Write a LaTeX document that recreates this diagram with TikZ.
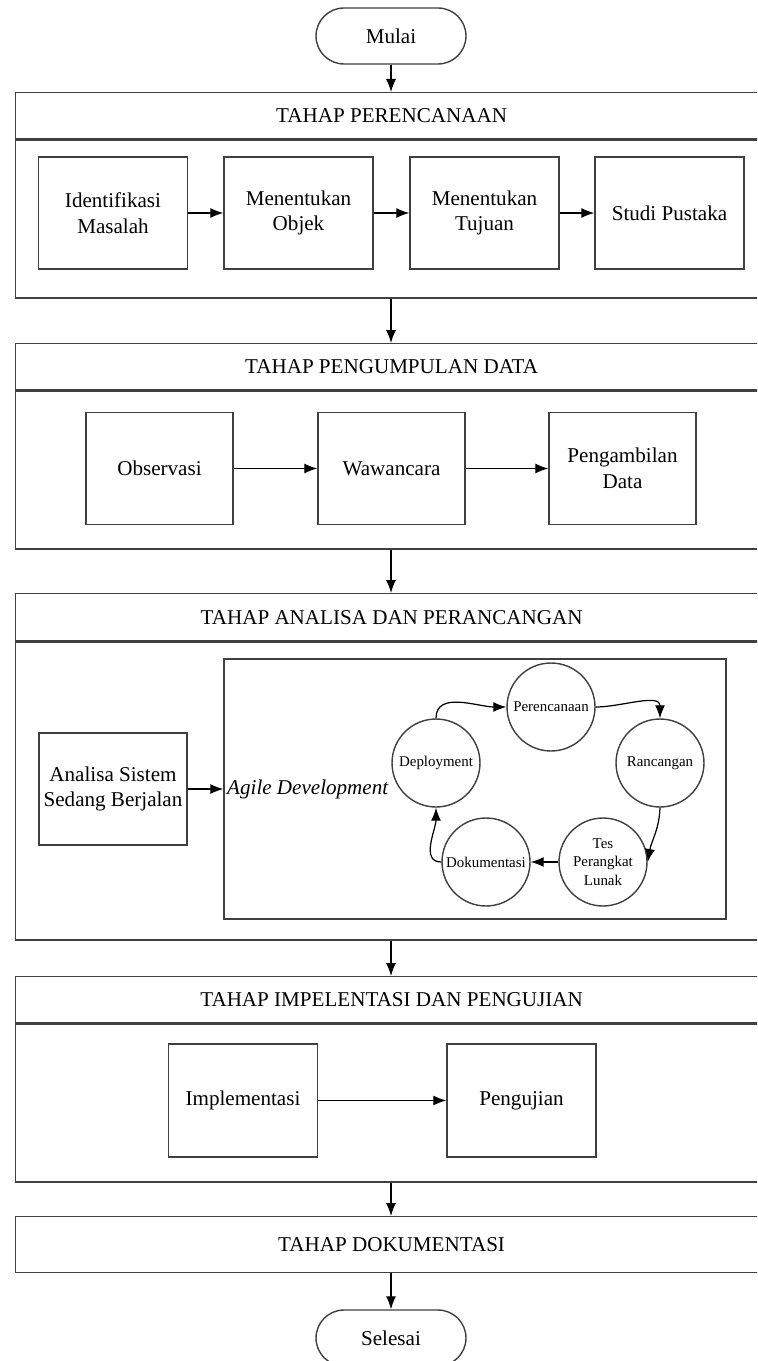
\documentclass[tikz,border=0pt]{standalone}
\usepackage{fontspec}
\setmainfont{Liberation Serif}
\usetikzlibrary{arrows.meta}
\tikzset{
  frm/.style={draw=black!75, line width=0.8pt, minimum width=15.04cm, anchor=north west, inner sep=0pt, font=\fontsize{12}{14.5}\selectfont},
  box/.style={draw=black!75, line width=0.8pt, minimum width=2.98cm, minimum height=2.24cm, align=center, inner sep=2pt, font=\fontsize{12}{14.5}\selectfont},
  term/.style={draw=black!75, line width=0.8pt, minimum width=3cm, minimum height=1.12cm, rounded corners=0.56cm, font=\fontsize{12}{14.5}\selectfont},
  cyc/.style={circle, draw=black!75, line width=0.8pt, minimum size=1.76cm, inner sep=0pt, align=center, font=\fontsize{8.5}{10.5}\selectfont},
  arr/.style={-{Latex[length=0.26cm,width=0.2cm]}, line width=0.7pt},
}

\begin{document}
\begin{tikzpicture}[x=0.02cm, y=-0.02cm]
\useasboundingbox (0,0) rectangle (757,1361);
\clip (0,0) rectangle (757,1361);

\node[term] (mulai) at (391,36) {Mulai};

% tahap perencanaan
\node[frm, minimum height=0.92cm] (hd1) at (15,92) {TAHAP PERENCANAAN};
\node[frm, minimum height=3.16cm] (bd1) at (hd1.south west) {};
\node[box] (idm) at (113,213) {Identifikasi\\Masalah};
\node[box] (obj) at (298.5,213) {Menentukan\\Objek};
\node[box] (tuj) at (484.5,213) {Menentukan\\Tujuan};
\node[box] (stp) at (669.5,213) {Studi Pustaka};
\draw[arr] (idm) -- (obj);
\draw[arr] (obj) -- (tuj);
\draw[arr] (tuj) -- (stp);

% tahap pengumpulan data
\node[frm, minimum height=0.92cm] (hd2) at (15,343) {TAHAP PENGUMPULAN DATA};
\node[frm, minimum height=3.16cm] (bd2) at (hd2.south west) {};
\node[box, minimum width=2.94cm] (obs) at (159.5,468.5) {Observasi};
\node[box, minimum width=2.94cm] (waw) at (391.5,468.5) {Wawancara};
\node[box, minimum width=2.94cm] (pgd) at (622.5,468.5) {Pengambilan\\Data};
\draw[arr] (obs) -- (waw);
\draw[arr] (waw) -- (pgd);

% tahap analisa dan perancangan
\node[frm, minimum height=0.94cm] (hd3) at (15,593) {TAHAP ANALISA DAN PERANCANGAN};
\node[frm, minimum height=5.96cm] (bd3) at (hd3.south west) {};
\node[box, minimum width=2.96cm] (ans) at (113,789) {Analisa Sistem\\Sedang Berjalan};
\node[draw=black!75, line width=0.8pt, minimum width=10.04cm, minimum height=5.2cm] (agile) at (475,789) {};
\node[anchor=west, inner sep=2pt, font=\fontsize{12}{14.5}\selectfont\itshape] (agtxt) at (agile.west) {Agile Development};
\draw[arr] (ans) -- (agile.west);

\node[cyc] (per) at (551,707) {Perencanaan};
\node[cyc] (ran) at (660,763) {Rancangan};
\node[cyc] (tes) at (603,862) {Tes\\Perangkat\\Lunak};
\node[cyc] (dok) at (486,862) {Dokumentasi};
\node[cyc] (dep) at (436,763) {Deployment};
\draw[arr] (dep.north) to[out=90, in=180] (per.west);
\draw[arr] (per.east) to[out=0, in=90] (ran.north);
\draw[arr] (ran.south) to[out=-92, in=80] (tes.east);
\draw[arr] (tes.west) -- (dok.east);
\draw[arr] (dok.west) to[out=180, in=-90] (dep.south);

% tahap implementasi dan pengujian
\node[frm, minimum height=0.92cm] (hd4) at (15,976) {TAHAP IMPELENTASI DAN PENGUJIAN};
\node[frm, minimum height=3.16cm] (bd4) at (hd4.south west) {};
\node[box, minimum height=2.26cm] (imp) at (243,1100.5) {Implementasi};
\node[box, minimum height=2.26cm] (pgj) at (521.5,1100.5) {Pengujian};
\draw[arr] (imp) -- (pgj);

% tahap dokumentasi
\node[frm, minimum height=1.12cm] (hd5) at (15,1216) {TAHAP DOKUMENTASI};

\node[term] (selesai) at (391,1338) {Selesai};

% alur antar tahap
\draw[arr] (mulai) -- (mulai |- hd1.north);
\draw[arr] (mulai |- bd1.south) -- (mulai |- hd2.north);
\draw[arr] (mulai |- bd2.south) -- (mulai |- hd3.north);
\draw[arr] (mulai |- bd3.south) -- (mulai |- hd4.north);
\draw[arr] (mulai |- bd4.south) -- (mulai |- hd5.north);
\draw[arr] (mulai |- hd5.south) -- (selesai);
\end{tikzpicture}
\end{document}
